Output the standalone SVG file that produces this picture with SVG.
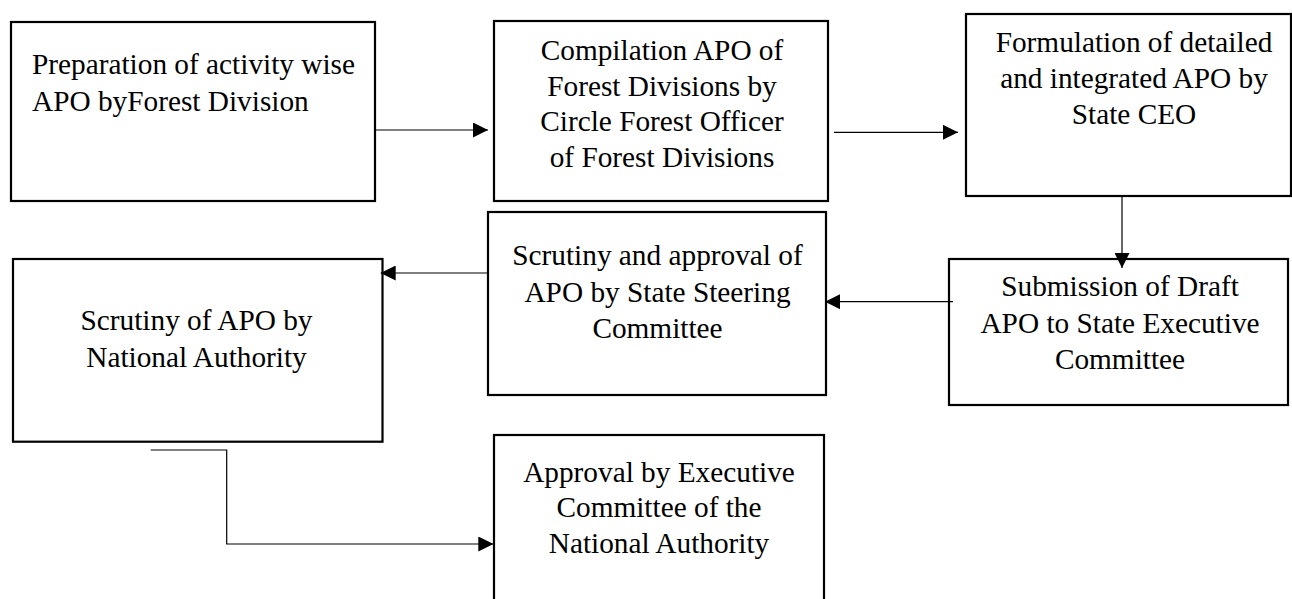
<svg xmlns="http://www.w3.org/2000/svg" width="1292" height="599" viewBox="0 0 1292 599">
<style>
.box{fill:#fff;stroke:#000;stroke-width:2.2}
.t{font-family:"Liberation Serif","Times New Roman",serif;font-size:29.3px;fill:#000}
.c{text-anchor:middle}
.con{fill:none;stroke:#000;stroke-width:1.2}
</style>
<defs>
<marker id="ah" markerUnits="userSpaceOnUse" markerWidth="15" markerHeight="15" refX="15" refY="7.5" orient="auto">
<path d="M0,0 L15,7.5 L0,15 z" fill="#000"/>
</marker>
</defs>
<rect width="1292" height="599" fill="#fff"/>
<g id="n1">
<rect class="box" x="11" y="22" width="364" height="179"/>
<text class="t" x="32" y="74">Preparation of activity wise</text>
<text class="t" x="32" y="110.7">APO byForest Division</text>
</g>
<g id="n2">
<rect class="box" x="494" y="21" width="334" height="180"/>
<text class="t c" x="662" y="60">Compilation APO of</text>
<text class="t c" x="662" y="96">Forest Divisions by</text>
<text class="t c" x="662" y="131">Circle Forest Officer</text>
<text class="t c" x="662" y="166.7">of Forest Divisions</text>
</g>
<g id="n3">
<rect class="box" x="966" y="14" width="325" height="182"/>
<text class="t c" x="1134" y="51.7">Formulation of detailed</text>
<text class="t c" x="1134" y="88.3">and integrated APO by</text>
<text class="t c" x="1134" y="124">State CEO</text>
</g>
<g id="n4">
<rect class="box" x="949" y="259" width="339" height="146"/>
<text class="t c" x="1120" y="296">Submission of Draft</text>
<text class="t c" x="1120" y="333">APO to State Executive</text>
<text class="t c" x="1120" y="369">Committee</text>
</g>
<g id="n5">
<rect class="box" x="488" y="212" width="338" height="183"/>
<text class="t c" x="657.5" y="265">Scrutiny and approval of</text>
<text class="t c" x="657.5" y="301.7">APO by State Steering</text>
<text class="t c" x="657.5" y="338.3">Committee</text>
</g>
<g id="n6">
<rect class="box" x="13" y="259" width="369.5" height="182.7"/>
<text class="t c" x="196.5" y="330">Scrutiny of APO by</text>
<text class="t c" x="196.5" y="366.7">National Authority</text>
</g>
<g id="n7">
<rect class="box" x="494" y="435" width="330" height="200"/>
<text class="t c" x="659" y="481.7">Approval by Executive</text>
<text class="t c" x="659" y="516.7">Committee of the</text>
<text class="t c" x="659" y="553.3">National Authority</text>
</g>
<g id="connectors">
<line class="con" x1="376" y1="130" x2="488" y2="130" marker-end="url(#ah)"/>
<line class="con" x1="834" y1="132.3" x2="958" y2="132.3" marker-end="url(#ah)"/>
<line class="con" x1="1122" y1="197" x2="1122" y2="268" marker-end="url(#ah)"/>
<line class="con" x1="953" y1="301.7" x2="825" y2="301.7" marker-end="url(#ah)"/>
<line class="con" x1="489" y1="273" x2="380.7" y2="273" marker-end="url(#ah)"/>
<polyline class="con" points="150.7,450 226.7,450 226.7,544 493.3,544" marker-end="url(#ah)"/>
</g>
</svg>
